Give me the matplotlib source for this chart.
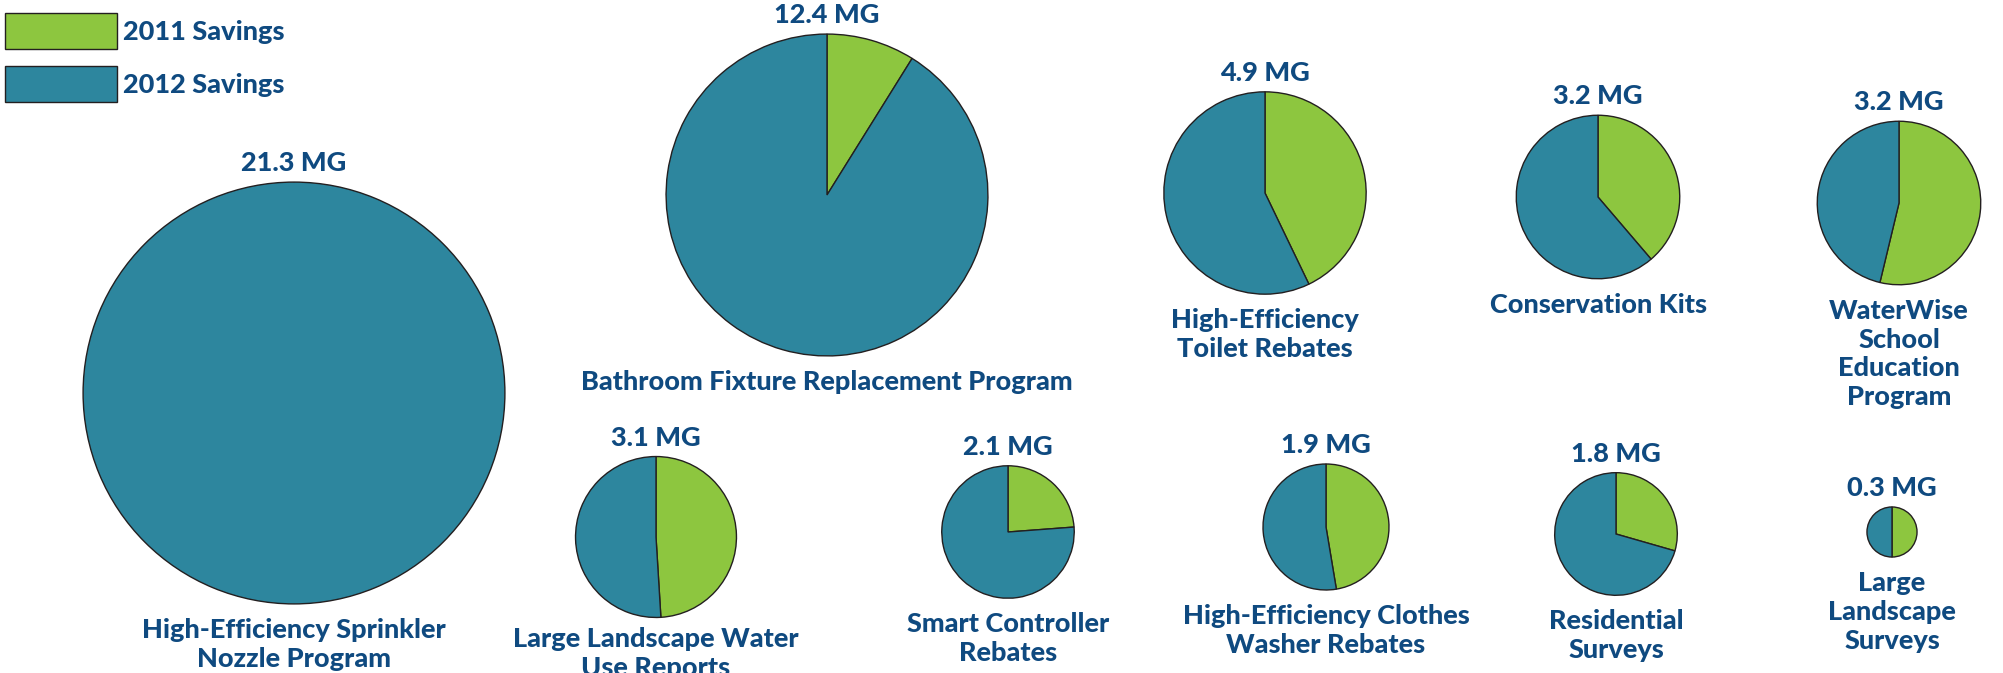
import matplotlib
matplotlib.use("Agg")
import matplotlib.pyplot as plt
import numpy as np

# data (million gallons)
programs = [
    "High-Efficiency Sprinkler\nNozzle Program",
    "Bathroom Fixture Replacement Program",
    "High-Efficiency\nToilet Rebates",
    "Conservation Kits",
    "WaterWise\nSchool\nEducation\nProgram",
    "Large Landscape Water\nUse Reports",
    "Smart Controller\nRebates",
    "High-Efficiency Clothes\nWasher Rebates",
    "Residential\nSurveys",
    "Large\nLandscape\nSurveys",
]
savings_2011 = [0.0, 1.1, 2.1, 1.24, 1.72, 1.52, 0.5, 0.9, 0.53, 0.15]
savings_2012 = [21.3, 11.3, 2.8, 1.96, 1.48, 1.58, 1.6, 1.0, 1.27, 0.15]
series_labels = ["2011 Savings", "2012 Savings"]

# layout: pie centres in pixels (from top-left of the picture)
W, H = 2003, 673
centres = [(294, 393), (827, 195), (1265, 193), (1598, 197), (1899, 203),
           (656, 537), (1008, 532), (1326, 527), (1616, 534), (1892, 532)]
name_gap = [14, 14, 14, 14, 14, 10, 14, 14, 14, 14]  # pie edge to label, px
px_per_sqrt_mg = 45.7   # pie area proportional to total savings

GREEN = "#8dc63f"
TEAL = "#2d869e"
NAVY = "#0f4a80"
EDGE = "#231f20"
FS = 19.5

plt.rcParams["font.family"] = ["Lato", "DejaVu Sans"]
plt.rcParams["font.weight"] = "black"

fig = plt.figure(figsize=(W / 100, H / 100), dpi=100)
ax = fig.add_axes([0, 0, 1, 1])

handles = None
for name, s11, s12, (cx, cy), gap in zip(programs, savings_2011, savings_2012,
                                         centres, name_gap):
    total = s11 + s12
    r = px_per_sqrt_mg * np.sqrt(total)
    y = H - cy
    wedges, _ = ax.pie([s11, s12], colors=[GREEN, TEAL], startangle=90,
                       counterclock=False, center=(cx, y), radius=r, frame=True,
                       wedgeprops=dict(edgecolor=EDGE, linewidth=1.0))
    if handles is None and s11 > 0:
        handles = wedges
    ax.text(cx, y + r + 19, f"{total:.1f} MG", ha="center", va="center",
            fontsize=FS, color=NAVY, fontweight="black")
    ax.text(cx, y - r - gap, name, ha="center", va="top", fontsize=FS,
            color=NAVY, fontweight="black", linespacing=1.24)

ax.set_xlim(0, W)
ax.set_ylim(0, H)
ax.set_aspect("auto")
ax.axis("off")

leg = fig.legend(handles, series_labels, loc="upper left",
                 bbox_to_anchor=(5 / W, 1 - 13 / H), frameon=False,
                 fontsize=FS, handlelength=4.15, handleheight=1.67,
                 handletextpad=0.2, labelspacing=0.62, borderpad=0,
                 borderaxespad=0)
for t in leg.get_texts():
    t.set_color(NAVY)
    t.set_fontweight("black")

fig.savefig("out.png", dpi=100, facecolor="white")
